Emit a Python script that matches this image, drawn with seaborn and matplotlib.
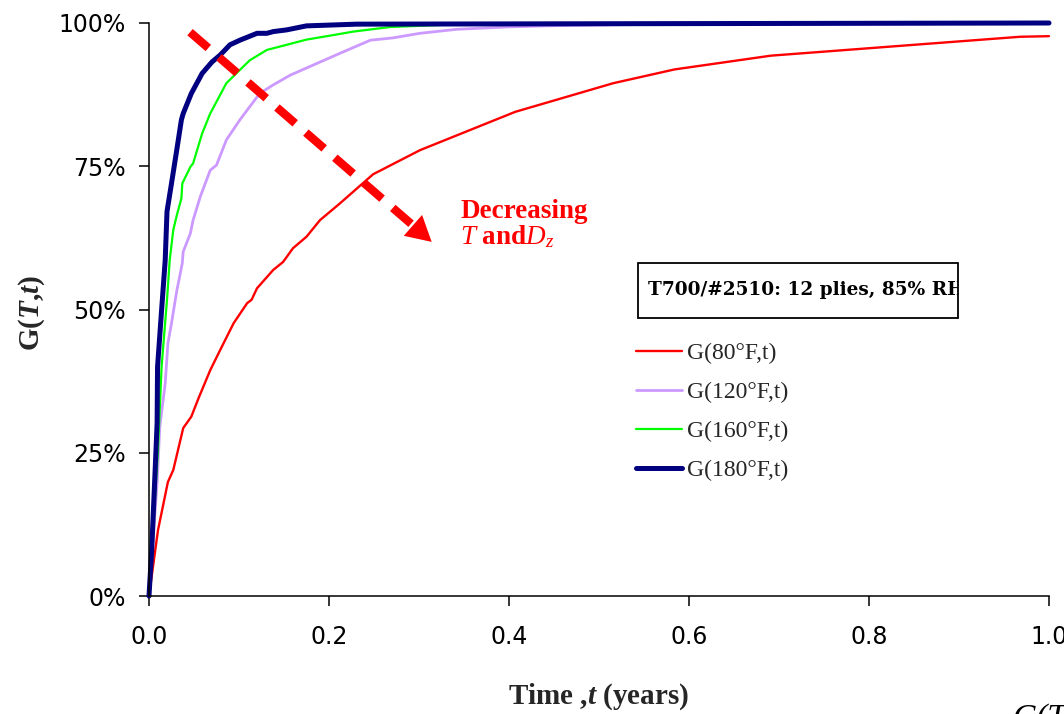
import matplotlib
matplotlib.use("Agg")
import matplotlib.pyplot as plt
import seaborn as sns
from matplotlib.patches import Rectangle, FancyArrowPatch

# ---------------- data ----------------
red_x = [0, 0.010, 0.021, 0.027, 0.038, 0.047, 0.055, 0.068, 0.079, 0.094, 0.109, 0.114,
         0.120, 0.138, 0.149, 0.160, 0.175, 0.190, 0.212, 0.249, 0.301, 0.407, 0.516,
         0.584, 0.691, 0.968, 1.0]
red_y = [0, 11.5, 19.9, 22.0, 29.3, 31.3, 34.5, 39.4, 42.9, 47.6, 51.1, 51.7,
         53.7, 56.9, 58.3, 60.7, 62.7, 65.6, 68.5, 73.6, 77.8, 84.5, 89.5,
         91.9, 94.3, 97.6, 97.7]

lav_x = [0, 0.009, 0.012, 0.018, 0.021, 0.025, 0.031, 0.034, 0.037, 0.038, 0.046, 0.049,
         0.057, 0.068, 0.075, 0.086, 0.101, 0.112, 0.123, 0.138, 0.157, 0.183, 0.212,
         0.246, 0.271, 0.301, 0.342, 0.397, 0.44, 0.56, 1.0]
lav_y = [0, 19.7, 29.5, 37.1, 44.1, 47.6, 53.4, 55.7, 58.1, 60.1, 63.3, 65.6,
         69.7, 74.3, 75.2, 79.6, 83.1, 85.4, 87.7, 89.2, 90.9, 92.7, 94.7,
         97.0, 97.4, 98.2, 98.9, 99.3, 99.5, 99.8, 100]

green_x = [0, 0.010, 0.014, 0.020, 0.023, 0.027, 0.031, 0.036, 0.037, 0.046, 0.049, 0.059,
           0.068, 0.086, 0.097, 0.112, 0.131, 0.153, 0.175, 0.205, 0.227, 0.268, 0.33, 1.0]
green_y = [0, 25.5, 40.0, 51.7, 58.6, 63.9, 66.5, 69.4, 72.0, 74.9, 75.5, 80.7,
           84.2, 89.5, 91.2, 93.5, 95.3, 96.2, 97.1, 97.9, 98.5, 99.3, 99.7, 100]

blue_x = [0, 0.003, 0.007, 0.009, 0.0095, 0.014, 0.018, 0.020, 0.025, 0.031, 0.036, 0.038,
          0.047, 0.059, 0.070, 0.079, 0.090, 0.101, 0.120, 0.131, 0.138, 0.153, 0.175,
          0.231, 1.0]
blue_y = [0, 8.0, 22.6, 30.1, 40.0, 49.9, 58.6, 67.1, 72.0, 78.0, 83.1, 84.2,
          87.7, 91.2, 93.2, 94.4, 96.2, 97.0, 98.2, 98.2, 98.5, 98.8, 99.5,
          99.8, 100]

series_labels = ["G(80°F,t)", "G(120°F,t)", "G(160°F,t)", "G(180°F,t)"]
series_colors = ["#FF0000", "#CC99FF", "#00FF00", "#000080"]
series_widths = [1.7, 2.0, 1.6, 3.6]

x_ticks = [0.0, 0.2, 0.4, 0.6, 0.8, 1.0]
x_tick_labels = ["0.0", "0.2", "0.4", "0.6", "0.8", "1.0"]
y_ticks = [0, 25, 50, 75, 100]
y_tick_labels = ["0%", "25%", "50%", "75%", "100%"]

box_title = "T700/#2510: 12 plies, 85% RH"

# ---------------- style ----------------
sns.set_style("ticks")
plt.rcParams["font.family"] = ["DejaVu Sans"]
plt.rcParams["mathtext.fontset"] = "custom"
plt.rcParams["mathtext.rm"] = "Liberation Serif"
plt.rcParams["mathtext.it"] = "Liberation Serif:italic"
plt.rcParams["mathtext.bf"] = "Liberation Serif:bold"
plt.rcParams["mathtext.bfit"] = "Liberation Serif:italic:bold"

W, H = 1064, 714
fig = plt.figure(figsize=(W / 100, H / 100), dpi=100)
ax = fig.add_axes([149 / W, (H - 596) / H, 900 / W, 573 / H])

all_x = [red_x, lav_x, green_x, blue_x]
all_y = [red_y, lav_y, green_y, blue_y]
for xs, ys, lab, col, lw in zip(all_x, all_y, series_labels, series_colors, series_widths):
    sns.lineplot(x=xs, y=ys, ax=ax, color=col, linewidth=lw, label=lab,
                 sort=False, estimator=None)
    ax.lines[-1].set_clip_on(False)
    ax.lines[-1].set_solid_joinstyle("round")

ax.set_xlim(0, 1.0)
ax.set_ylim(0, 100)
ax.set_xticks(x_ticks)
ax.set_xticklabels(x_tick_labels)
ax.set_yticks(y_ticks)
ax.set_yticklabels(y_tick_labels)

for s in ["top", "right"]:
    ax.spines[s].set_visible(False)
for s in ["left", "bottom"]:
    ax.spines[s].set_color("black")
    ax.spines[s].set_linewidth(1.1)

ax.tick_params(axis="both", direction="out", length=7, width=1.1, colors="black",
               labelsize=17)
ax.tick_params(axis="x", pad=14)
ax.tick_params(axis="y", pad=10)

# axis labels
ax.set_ylabel(r"G($\mathbfit{T}$,$\mathbfit{t}$)", fontfamily="Liberation Serif",
              fontweight="bold", fontsize=21)
ax.yaxis.set_label_coords(-0.130, 0.494)
ax.yaxis.label.set_va("center")
ax.set_xlabel(r"Time ,$\mathbfit{t}$ (years)", fontfamily="Liberation Serif",
              fontweight="bold", fontsize=21)
ax.xaxis.set_label_coords(0.5, (596 - 697) / 573)
ax.xaxis.label.set_va("center")

# dashed red arrow
ax.plot([0.0456, 0.2931], [98.4, 64.7], color="#FF0000", lw=6,
        ls=(0, (2.9, 1.7)), dash_capstyle="butt", zorder=6, clip_on=False)
head = FancyArrowPatch((0.2931, 64.7), (0.3141, 61.8),
                       arrowstyle="-|>,head_length=18,head_width=10",
                       mutation_scale=1, color="#FF0000", lw=0,
                       shrinkA=0, shrinkB=0, zorder=6, transform=ax.transData)
ax.add_patch(head)

ax.text(0.3456, 66.0, "Decreasing", color="#FF0000", fontfamily="Liberation Serif",
        fontweight="bold", fontsize=19.5, va="baseline", ha="left")
ax.text(0.3456, 61.4, r"$T$ and$D_z$", color="#FF0000", fontfamily="Liberation Serif",
        fontweight="bold", fontsize=19.5, va="baseline", ha="left")

# legend (no frame)
leg = ax.legend(loc="upper left", bbox_to_anchor=(636 / W, (H - 343) / H),
                bbox_transform=fig.transFigure, frameon=False,
                prop={"family": "Liberation Serif", "size": 17},
                handlelength=1.95, handletextpad=0.2, labelspacing=0.74,
                borderpad=0, borderaxespad=0)

# boxed title
rect = Rectangle((638 / W, (H - 318) / H), 320 / W, 55 / H, transform=fig.transFigure,
                 fill=False, edgecolor="black", lw=1.3)
fig.add_artist(rect)
t = fig.text(648 / W, (H - 290) / H, box_title, fontfamily="DejaVu Serif",
             fontweight="bold", fontsize=13.3, va="center", ha="left", color="black")
t.set_clip_on(True)
t.set_clip_path(rect)

# clipped fragment at the bottom-right corner
fig.text(1012 / W, 11 / H, "G(T", fontfamily="Liberation Serif", fontstyle="italic",
         fontsize=24, va="top", ha="left", color="black")

fig.savefig("out.png", dpi=100)
